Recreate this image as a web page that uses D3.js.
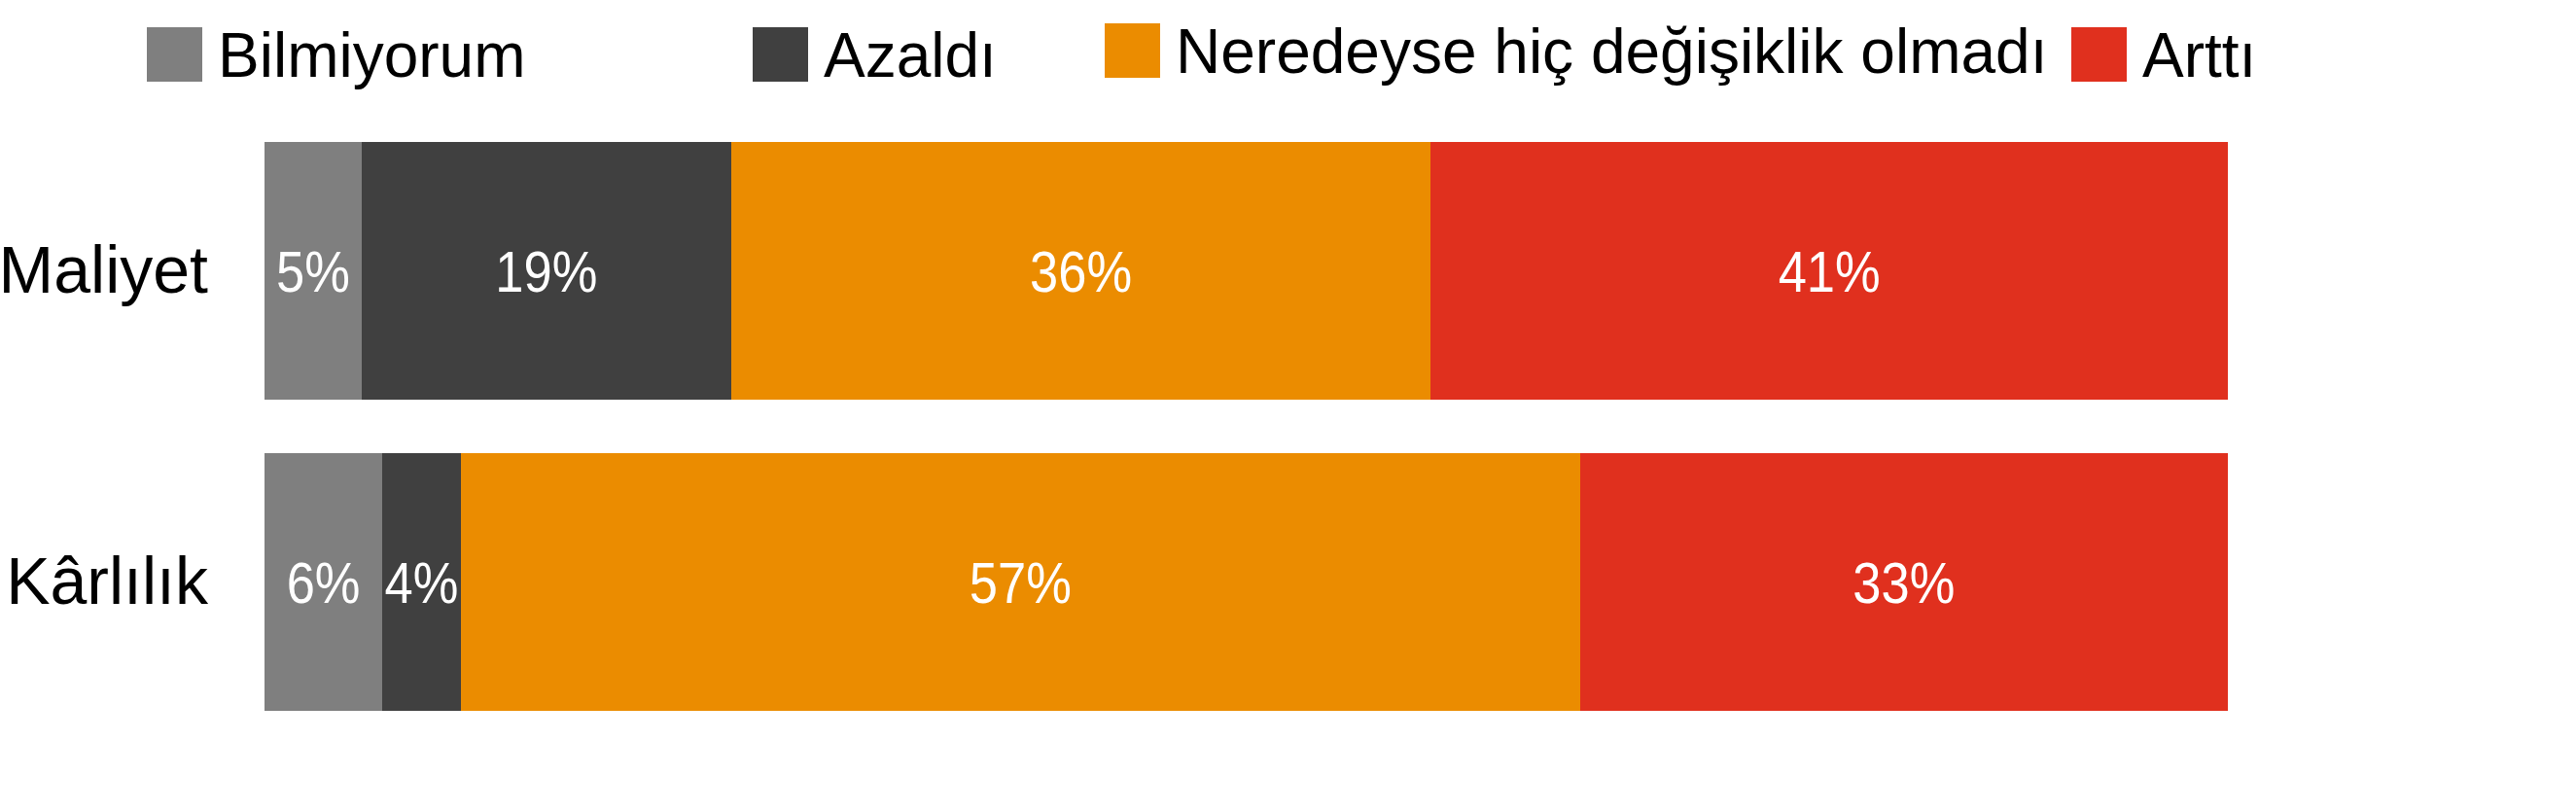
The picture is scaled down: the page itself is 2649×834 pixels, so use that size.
<!DOCTYPE html>
<html>
<head>
<meta charset="utf-8">
<script src="https://cdn.jsdelivr.net/npm/d3@7"></script>
<style>
  html, body { margin: 0; padding: 0; background: #fff; }
  svg { display: block; font-family: "Liberation Sans", Arial, Helvetica, sans-serif; }
</style>
</head>
<body>
<svg id="chart" width="2649" height="834"></svg>
<script>
// ---- data ----
const categories = ["Maliyet", "Kârlılık"];
const seriesNames = ["Bilmiyorum", "Azaldı", "Neredeyse hiç değişiklik olmadı", "Arttı"];
const bilmiyorum = [5, 6];
const azaldi = [19, 4];
const degisiklikYok = [36, 57];
const artti = [41, 33];
const colors = ["#7f7f7f", "#404040", "#eb8c00", "#e0301e"];

// ---- layout ----
const W = 2649, H = 834;
const plot = { left: 272, right: 2291, top: 146, bottom: 731 };
const legendX = [151, 774, 1136, 2130];
const legendDY = [0, 0, -4, 0];

const svg = d3.select("#chart");

const rows = categories.map((c, i) => ({
  cat: c,
  [seriesNames[0]]: bilmiyorum[i],
  [seriesNames[1]]: azaldi[i],
  [seriesNames[2]]: degisiklikYok[i],
  [seriesNames[3]]: artti[i]
}));

const stack = d3.stack().keys(seriesNames).offset(d3.stackOffsetExpand);
const stacked = stack(rows);

const x = d3.scaleLinear().domain([0, 1]).range([plot.left, plot.right]);
const y = d3.scaleBand().domain(categories).range([plot.top, plot.bottom])
  .paddingInner(0.172).paddingOuter(0);
const color = d3.scaleOrdinal().domain(seriesNames).range(colors);

// bars
const groups = svg.append("g").selectAll("g")
  .data(stacked).join("g")
  .attr("fill", d => color(d.key));

groups.selectAll("rect")
  .data(d => d.map(p => ({ key: d.key, p })))
  .join("rect")
  .attr("x", d => x(d.p[0]))
  .attr("y", d => y(d.p.data.cat))
  .attr("width", d => x(d.p[1]) - x(d.p[0]))
  .attr("height", y.bandwidth())
  .attr("shape-rendering", "crispEdges");

// value labels (slightly tall glyphs as in the reference)
groups.selectAll("text")
  .data(d => d.map(p => ({ key: d.key, p })))
  .join("text")
  .attr("transform", d =>
    `translate(${(x(d.p[0]) + x(d.p[1])) / 2},${y(d.p.data.cat) + y.bandwidth() / 2 + 21.5}) scale(1,1.12)`)
  .attr("text-anchor", "middle")
  .attr("fill", "#ffffff")
  .attr("font-size", 52.5)
  .text(d => d.p.data[d.key] + "%");

// category axis labels
const yAxis = d3.axisLeft(y).tickSize(0).tickPadding(0);
const yg = svg.append("g").attr("transform", `translate(${214},0)`).call(yAxis);
yg.select(".domain").remove();
yg.selectAll("text")
  .attr("font-size", 68)
  .attr("font-family", "\"Liberation Sans\", Arial, sans-serif")
  .attr("fill", "#000")
  .attr("dy", "0.33em");

// legend
const lg = svg.append("g").selectAll("g")
  .data(seriesNames).join("g")
  .attr("transform", (d, i) => `translate(${legendX[i]},${legendDY[i]})`);
lg.append("rect")
  .attr("x", 0).attr("y", 28)
  .attr("width", 57).attr("height", 56)
  .attr("fill", d => color(d));
lg.append("text")
  .attr("x", 73).attr("y", 79)
  .attr("font-size", 64)
  .attr("fill", "#000")
  .text(d => d);
</script>
</body>
</html>
